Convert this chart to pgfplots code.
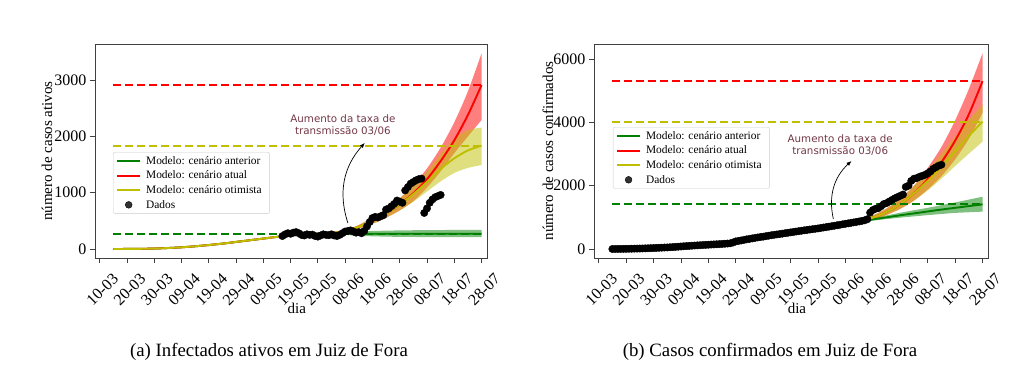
\documentclass[border=0pt]{standalone}
\usepackage{fontspec}
\setmainfont{Liberation Serif}
\newfontfamily\annfont{DejaVu Sans}
\usepackage{pgfplots}
\usepackage{pgfplotstable}
\pgfplotsset{compat=1.18}
\usepgfplotslibrary{fillbetween}
\usetikzlibrary{arrows.meta}

\definecolor{mplg}{RGB}{0,128,0}
\definecolor{mplr}{RGB}{255,0,0}
\definecolor{mply}{RGB}{191,191,0}
\definecolor{anncol}{RGB}{115,55,70}

% ---------- Left: active cases ----------
\pgfplotstableread{
d v
67 230
68 260
69 280
70 270
71 290
72 300
73 280
74 250
75 240
76 260
77 250
78 255
79 230
80 220
81 240
82 260
83 250
84 245
85 260
86 240
87 230
88 250
89 280
90 310
91 320
92 330
93 310
94 290
95 300
96 280
97 320
98 400
99 480
100 550
101 570
102 560
103 580
104 600
105 700
106 720
107 760
108 800
109 860
110 840
111 820
112 1040
113 1100
114 1160
115 1190
116 1220
117 1240
118 1250
119 640
120 720
121 820
122 880
123 920
124 940
125 960
}\leftdata

\pgfplotstableread{
d lo mid hi
5 0 0 0
10 1 1 1
15 2.9 3 3.1
20 7.8 8 8.2
25 16.5 17 17.5
30 29 30 31
35 46.5 48 49.5
40 68 70 72
45 92 95 98
50 121 125 129
55 150 155 160
60 179 185 191
65 208 215 222
70 232 240 248
75 249 258 267
80 262 272 282
85 275 287 299
90 298 315 332
95 365 395 425
100 445 500 560
105 555 630 710
110 685 790 900
115 850 990 1140
120 1090 1240 1430
125 1380 1560 1800
130 1700 1930 2250
135 2000 2380 2800
140 2290 2910 3475
}\leftred

\pgfplotstableread{
d lo mid hi
5 0 0 0
10 1 1 1
15 2.9 3 3.1
20 7.8 8 8.2
25 16.5 17 17.5
30 29 30 31
35 46.5 48 49.5
40 68 70 72
45 92 95 98
50 121 125 129
55 150 155 160
60 179 185 191
65 208 215 222
70 232 240 248
75 249 258 267
80 262 272 282
85 275 287 299
90 298 315 332
95 365 395 425
100 445 500 560
105 555 630 710
110 685 790 900
115 840 975 1120
120 1020 1190 1380
125 1200 1420 1680
130 1350 1610 1960
135 1440 1750 2110
140 1490 1835 2155
}\leftyel

\pgfplotstableread{
d lo mid hi
5 0 0 0
10 1 1 1
15 2.9 3 3.1
20 7.8 8 8.2
25 16.5 17 17.5
30 29 30 31
35 46.5 48 49.5
40 68 70 72
45 92 95 98
50 121 125 129
55 150 155 160
60 179 185 191
65 208 215 222
70 232 240 248
75 249 258 267
80 262 270 280
85 260 270 282
90 250 270 295
95 235 270 310
100 225 270 320
110 215 270 330
120 212 270 335
130 210 270 338
140 210 270 340
}\leftgreen

% ---------- Right: confirmed cases ----------
\pgfplotstableread{
d v
5 0
6 1
7 2
8 3
9 4
10 5
11 7
12 9
13 11
14 13
15 15
16 18
17 21
18 24
19 27
20 30
21 34
22 38
23 42
24 46
25 50
26 55
27 61
28 67
29 73
30 80
31 86
32 92
33 98
34 104
35 110
36 115
37 120
38 125
39 130
40 135
41 140
42 145
43 150
44 155
45 160
46 166
47 172
48 180
49 205
50 240
51 255
52 270
53 288
54 305
55 320
56 335
57 350
58 365
59 378
60 390
61 405
62 420
63 435
64 448
65 460
66 472
67 485
68 498
69 512
70 525
71 538
72 551
73 564
74 577
75 590
76 602
77 614
78 626
79 638
80 650
81 664
82 678
83 692
84 706
85 720
86 735
87 750
88 765
89 780
90 795
91 810
92 825
93 840
94 855
95 870
96 888
97 905
98 940
99 1150
100 1230
101 1270
102 1290
103 1350
104 1420
105 1450
106 1500
107 1550
108 1600
109 1640
110 1680
111 1720
112 1960
113 2000
114 2150
115 2220
116 2240
117 2280
118 2310
119 2340
120 2390
121 2450
122 2530
123 2580
124 2630
125 2660
}\rightdata

\pgfplotstableread{
d lo mid hi
5 0 0 0
10 5 5 5
15 15 15 15
20 29 30 31
25 49 50 51
30 78 80 82
35 107 110 113
40 132 135 138
45 156 160 164
50 215 220 225
55 303 310 317
60 381 390 399
65 450 460 470
70 513 525 537
75 577 590 603
80 635 650 665
85 703 720 737
90 775 795 815
95 835 870 905
100 925 990 1060
105 1075 1170 1280
110 1270 1420 1590
115 1530 1760 2000
120 1880 2200 2560
125 2300 2740 3220
130 2830 3420 4060
135 3480 4250 5050
140 4300 5300 6180
}\rightred

\pgfplotstableread{
d lo mid hi
5 0 0 0
10 5 5 5
15 15 15 15
20 29 30 31
25 49 50 51
30 78 80 82
35 107 110 113
40 132 135 138
45 156 160 164
50 215 220 225
55 303 310 317
60 381 390 399
65 450 460 470
70 513 525 537
75 577 590 603
80 635 650 665
85 703 720 737
90 775 795 815
95 835 870 905
100 925 990 1060
105 1075 1170 1280
110 1270 1420 1590
115 1530 1760 2000
120 1850 2150 2480
125 2220 2600 3000
130 2620 3080 3550
135 3010 3570 4080
140 3390 4020 4550
}\rightyel

\pgfplotstableread{
d lo mid hi
5 0 0 0
10 5 5 5
15 15 15 15
20 29 30 31
25 49 50 51
30 78 80 82
35 107 110 113
40 132 135 138
45 156 160 164
50 215 220 225
55 303 310 317
60 381 390 399
65 450 460 470
70 513 525 537
75 577 590 603
80 635 650 665
85 703 720 737
90 780 795 810
95 840 860 880
100 895 935 975
105 945 1000 1060
110 990 1065 1145
115 1030 1125 1225
120 1070 1185 1300
125 1105 1245 1385
130 1140 1300 1470
135 1160 1355 1560
140 1180 1410 1650
}\rightgreen

\pgfplotsset{
  jfstyle/.style={
    scale only axis, height=214pt,
    xmin=-1.7, xmax=142,
    xtick={0,10,...,140},
    xticklabels={10-03,20-03,30-03,09-04,19-04,29-04,09-05,19-05,29-05,08-06,18-06,28-06,08-07,18-07,28-07},
    tick align=outside, xtick pos=bottom, ytick pos=left,
    major tick length=5pt,
    every tick/.style={black!75, line width=0.8pt},
    axis line style={black!75, line width=0.8pt},
    tick label style={font=\fontsize{16}{18}\selectfont},
    xticklabel style={rotate=45, anchor=north east, inner sep=1pt, xshift=3pt, yshift=-14pt},
    /pgf/number format/assume math mode=true,
    /pgf/number format/1000 sep={},
    scaled y ticks=false,
    xlabel={dia},
    every axis x label/.style={at={(rel axis cs:0.515,-0.236)}, anchor=center, font=\fontsize{15}{17}\selectfont},
    legend cell align=left,
    legend style={draw=black!20, rounded corners=2pt, fill=white, fill opacity=0.8, text opacity=1, draw opacity=1,
      font=\fontsize{11.4}{13}\selectfont, inner xsep=3pt, inner ysep=4pt, row sep=5.2pt, anchor=north west,
      nodes={inner xsep=5pt, inner ysep=0pt}},
    legend image code/.code={\draw[#1, line width=1.9pt, solid] (0pt,0pt) -- (23pt,0pt);},
  },
  modelline/.style={line width=1.9pt, smooth},
  dashline/.style={line width=2pt, dash pattern=on 8pt off 4pt, forget plot, opacity=1},
  bandfill/.style={fill opacity=0.5, draw=none, forget plot},
  bandedge/.style={draw=none, smooth, forget plot},
}

\begin{document}
\begin{tikzpicture}

% ================= LEFT =================
\begin{axis}[jfstyle, at={(95pt,119pt)}, anchor=south west, width=392pt,
  ymin=-160, ymax=3640, ytick={0,1000,2000,3000},
  ylabel={número de casos ativos},
  every axis y label/.style={at={(rel axis cs:-0.1224,0.5)}, rotate=90, anchor=center, font=\fontsize{15}{17}\selectfont},
  legend style={at={(rel axis cs:0.046,0.495)}},
]
\addplot[mplg, modelline] table[x=d,y=mid]{\leftgreen};
\addlegendentry{Modelo: cenário anterior}
\addplot[bandedge, name path=gU] table[x=d,y=hi]{\leftgreen};
\addplot[bandedge, name path=gL] table[x=d,y=lo]{\leftgreen};
\addplot[mplg, bandfill] fill between[of=gU and gL];

\addplot[mplr, modelline] table[x=d,y=mid]{\leftred};
\addlegendentry{Modelo: cenário atual}
\addplot[bandedge, name path=rU] table[x=d,y=hi]{\leftred};
\addplot[bandedge, name path=rL] table[x=d,y=lo]{\leftred};
\addplot[mplr, bandfill] fill between[of=rU and rL];

\addplot[mply, modelline] table[x=d,y=mid]{\leftyel};
\addlegendentry{Modelo: cenário otimista}
\addplot[bandedge, name path=yU] table[x=d,y=hi]{\leftyel};
\addplot[bandedge, name path=yL] table[x=d,y=lo]{\leftyel};
\addplot[mply, bandfill] fill between[of=yU and yL];

\addplot[draw=mplr, dashline] coordinates {(5,2910) (140,2910)};
\addplot[draw=mply, dashline] coordinates {(5,1835) (140,1835)};
\addplot[draw=mplg, dashline] coordinates {(5,272) (140,272)};

\addplot[only marks, mark=*, mark size=3.7pt, black,
  legend image code/.code={\fill[black] (11.5pt,0pt) circle (3.4pt);}] table[x=d,y=v]{\leftdata};
\addlegendentry{Dados}

\draw[-{Latex[length=5pt,width=4pt]}, line width=0.7pt] (axis cs:91,462) to[bend left=30] (axis cs:97.2,1883);
\node[align=center, text=anncol, font=\fontsize{10.3}{12}\selectfont\annfont] at (axis cs:89.2,2202) {Aumento da taxa de\\transmissão 03/06};
\end{axis}

% ================= RIGHT =================
\begin{axis}[jfstyle, at={(594pt,119pt)}, anchor=south west, width=394pt,
  ymin=-284, ymax=6473, ytick={0,2000,4000,6000},
  ylabel={número de casos confirmados},
  every axis y label/.style={at={(rel axis cs:-0.1168,0.5)}, rotate=90, anchor=center, font=\fontsize{15}{17}\selectfont},
  legend style={at={(rel axis cs:0.048,0.612)}},
]
\addplot[mplg, modelline] table[x=d,y=mid]{\rightgreen};
\addlegendentry{Modelo: cenário anterior}
\addplot[bandedge, name path=gU] table[x=d,y=hi]{\rightgreen};
\addplot[bandedge, name path=gL] table[x=d,y=lo]{\rightgreen};
\addplot[mplg, bandfill] fill between[of=gU and gL];

\addplot[mplr, modelline] table[x=d,y=mid]{\rightred};
\addlegendentry{Modelo: cenário atual}
\addplot[bandedge, name path=rU] table[x=d,y=hi]{\rightred};
\addplot[bandedge, name path=rL] table[x=d,y=lo]{\rightred};
\addplot[mplr, bandfill] fill between[of=rU and rL];

\addplot[mply, modelline] table[x=d,y=mid]{\rightyel};
\addlegendentry{Modelo: cenário otimista}
\addplot[bandedge, name path=yU] table[x=d,y=hi]{\rightyel};
\addplot[bandedge, name path=yL] table[x=d,y=lo]{\rightyel};
\addplot[mply, bandfill] fill between[of=yU and yL];

\addplot[draw=mplr, dashline] coordinates {(5,5300) (140,5300)};
\addplot[draw=mply, dashline] coordinates {(5,4020) (140,4020)};
\addplot[draw=mplg, dashline] coordinates {(5,1410) (140,1410)};

\addplot[only marks, mark=*, mark size=3.7pt, black,
  legend image code/.code={\fill[black] (11.5pt,0pt) circle (3.4pt);}] table[x=d,y=v]{\rightdata};
\addlegendentry{Dados}

\draw[-{Latex[length=5pt,width=4pt]}, line width=0.7pt] (axis cs:85.6,947) to[bend left=30] (axis cs:92.2,2779);
\node[align=center, text=anncol, font=\fontsize{10.3}{12}\selectfont\annfont] at (axis cs:88.1,3284) {Aumento da taxa de\\transmissão 03/06};
\end{axis}

\node[font=\fontsize{18.8}{22}\selectfont] at (269pt,25pt) {(a) Infectados ativos em Juiz de Fora};
\node[font=\fontsize{18.8}{22}\selectfont] at (770pt,25pt) {(b) Casos confirmados em Juiz de Fora};
\path (0,0) rectangle (1024pt,377pt);
\end{tikzpicture}
\end{document}
